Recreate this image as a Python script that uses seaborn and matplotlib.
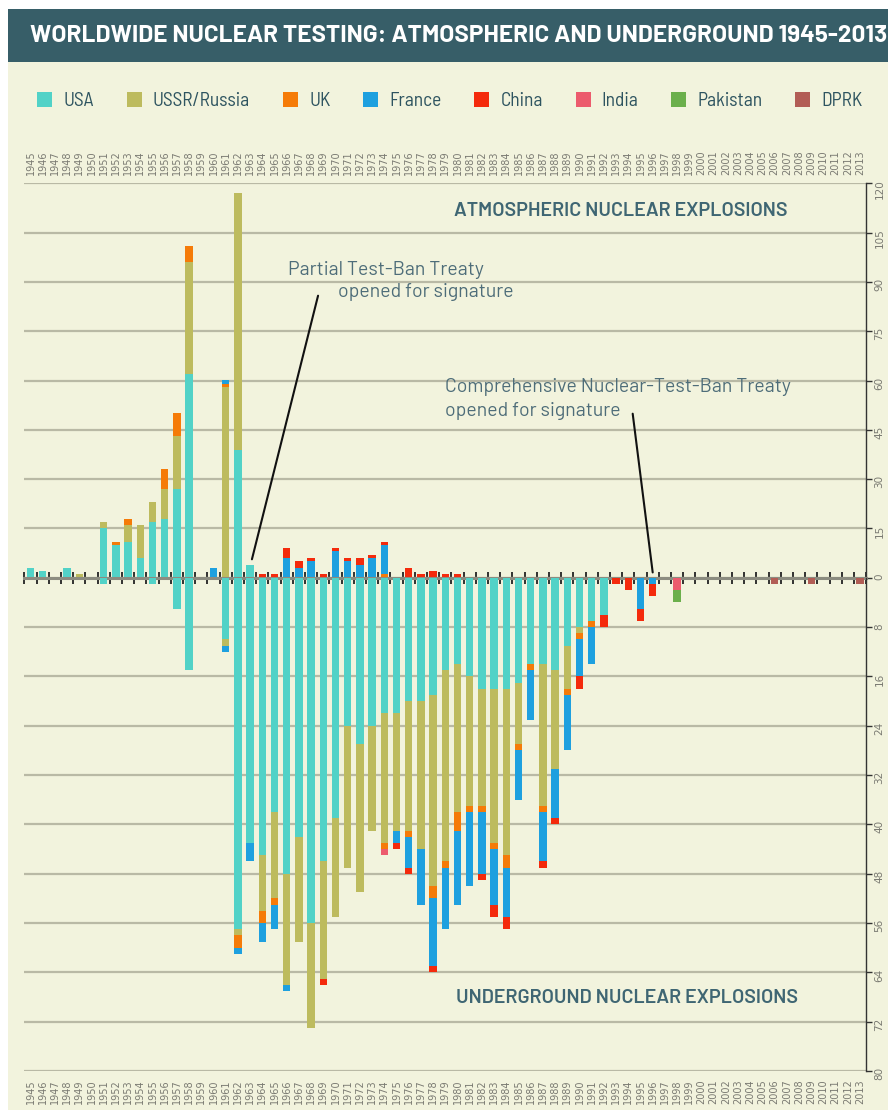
import numpy as np
import pandas as pd
import matplotlib
matplotlib.use("Agg")
import matplotlib.pyplot as plt
import seaborn as sns
from matplotlib.patches import Patch, Rectangle

# ---------------- data ----------------
YEARS = list(range(1945, 2014))
COUNTRIES = ["USA", "USSR/Russia", "UK", "France", "China", "India", "Pakistan", "DPRK"]
COLORS = ["#52D2C7", "#BDBB5E", "#F57B08", "#1EA0DF", "#F42A0C", "#EC5B6D", "#6BAF4B", "#B25D55"]

# atmospheric explosions per year
atm_usa = {1945: 3, 1946: 2, 1948: 3, 1951: 15, 1952: 10, 1953: 11, 1954: 6, 1955: 17,
           1956: 18, 1957: 27, 1958: 62, 1962: 39, 1963: 4}
atm_ussr = {1949: 1, 1951: 2, 1953: 5, 1954: 10, 1955: 6, 1956: 9, 1957: 16, 1958: 34,
            1961: 58, 1962: 78}
atm_uk = {1952: 1, 1953: 2, 1956: 6, 1957: 7, 1958: 5, 1961: 1, 1974: 1}
atm_france = {1960: 3, 1961: 1, 1966: 6, 1967: 3, 1968: 5, 1970: 8, 1971: 5, 1972: 4,
              1973: 6, 1974: 9}
atm_china = {1964: 1, 1965: 1, 1966: 3, 1967: 2, 1968: 1, 1969: 1, 1970: 1, 1971: 1,
             1972: 2, 1973: 1, 1974: 1, 1976: 3, 1977: 1, 1978: 2, 1979: 1, 1980: 1}

# underground explosions per year
ug_usa = {1951: 1, 1955: 1, 1957: 5, 1958: 15, 1961: 10, 1962: 57, 1963: 43, 1964: 45,
          1965: 38, 1966: 48, 1967: 42, 1968: 56, 1969: 46, 1970: 39, 1971: 24, 1972: 27,
          1973: 24, 1974: 22, 1975: 22, 1976: 20, 1977: 20, 1978: 19, 1979: 15, 1980: 14,
          1981: 16, 1982: 18, 1983: 18, 1984: 18, 1985: 17, 1986: 14, 1987: 14, 1988: 15,
          1989: 11, 1990: 8, 1991: 7, 1992: 6}
ug_ussr = {1961: 1, 1962: 1, 1964: 9, 1965: 14, 1966: 18, 1967: 17, 1968: 17, 1969: 19,
           1970: 16, 1971: 23, 1972: 24, 1973: 17, 1974: 21, 1975: 19, 1976: 21, 1977: 24,
           1978: 31, 1979: 31, 1980: 24, 1981: 21, 1982: 19, 1983: 25, 1984: 27, 1985: 10,
           1987: 23, 1988: 16, 1989: 7, 1990: 1}
ug_uk = {1962: 2, 1964: 2, 1965: 1, 1974: 1, 1976: 1, 1978: 2, 1979: 1, 1980: 3, 1981: 1,
         1982: 1, 1983: 1, 1984: 2, 1985: 1, 1986: 1, 1987: 1, 1989: 1, 1990: 1, 1991: 1}
ug_france = {1961: 1, 1962: 1, 1963: 3, 1964: 3, 1965: 4, 1966: 1, 1975: 2, 1976: 5,
             1977: 9, 1978: 11, 1979: 10, 1980: 12, 1981: 12, 1982: 10, 1983: 9, 1984: 8,
             1985: 8, 1986: 8, 1987: 8, 1988: 8, 1989: 9, 1990: 6, 1991: 6, 1995: 5, 1996: 1}
ug_china = {1969: 1, 1975: 1, 1976: 1, 1978: 1, 1982: 1, 1983: 2, 1984: 2, 1987: 1,
            1988: 1, 1990: 2, 1992: 2, 1993: 1, 1994: 2, 1995: 2, 1996: 2}
ug_india = {1974: 1, 1998: 2}
ug_pakistan = {1998: 2}
ug_dprk = {2006: 1, 2009: 1, 2013: 1}

ATM = dict(zip(COUNTRIES[:5], [atm_usa, atm_ussr, atm_uk, atm_france, atm_china]))
UG = dict(zip(COUNTRIES, [ug_usa, ug_ussr, ug_uk, ug_france, ug_china, ug_india,
                          ug_pakistan, ug_dprk]))


def to_frame(series_by_country):
    rows = [(y, c, n) for c, d in series_by_country.items() for y, n in d.items()]
    return pd.DataFrame(rows, columns=["year", "country", "tests"])


df_atm = to_frame(ATM)
df_ug = to_frame(UG)

# ---------------- style ----------------
BG = "#F2F3DD"
BAND = "#375E68"
GRID = "#B9B9A5"
TXT = "#3F6673"
NOTE = "#4E6D79"
TICKTXT = "#7A7A72"
COND = ["Barlow Semi Condensed", "DejaVu Sans"]
DIN = ["Barlow", "DejaVu Sans"]

sns.set_theme(style="white")
plt.rcParams["font.family"] = ["DejaVu Sans"]

W, H = 888, 1110
fig = plt.figure(figsize=(W / 100, H / 100), dpi=100, facecolor="white")
fig.add_artist(Rectangle((8 / W, 0), 1 - 8 / W, 1 - 62 / H, transform=fig.transFigure,
                         facecolor=BG, edgecolor="none", zorder=-10))
fig.add_artist(Rectangle((8 / W, 1 - 61.7 / H), 1 - 8 / W, (61.7 - 9.3) / H,
                         transform=fig.transFigure, facecolor=BAND, edgecolor="none",
                         zorder=-9))

L = 24.4 / W
AW = (866.2 - 24.4) / W
ax_top = fig.add_axes([L, 1 - 577.7 / H, AW, (577.7 - 183.3) / H])
ax_bot = fig.add_axes([L, 1 - 1071 / H, AW, (1071 - 577.7) / H])

palette = dict(zip(COUNTRIES, COLORS))


def draw(ax, df):
    present = [c for c in COUNTRIES if c in set(df["country"])]
    sns.histplot(data=df, x="year", weights="tests", hue="country",
                 hue_order=present[::-1], palette=palette, multiple="stack",
                 discrete=True, shrink=0.6, linewidth=0, alpha=1, legend=False, ax=ax)


draw(ax_top, df_atm)
draw(ax_bot, df_ug)

for ax in (ax_top, ax_bot):
    ax.set_facecolor("none")
    ax.set_xlim(YEARS[0] - 0.5, YEARS[-1] + 0.5)
    ax.set_xlabel("")
    ax.set_ylabel("")
    ax.set_xticks(YEARS)
    ax.set_xticklabels([str(y) for y in YEARS])
    ax.set_xticks(np.arange(YEARS[0] - 0.5, YEARS[-1] + 1), minor=True)
    ax.yaxis.tick_right()
    ax.grid(False)
    ax.yaxis.grid(True, color=GRID, lw=1.6)
    ax.set_axisbelow(True)
    for s in ("left", "top", "bottom"):
        ax.spines[s].set_visible(False)
    ax.spines["right"].set_color("#333333")
    ax.spines["right"].set_linewidth(1.0)
    ax.tick_params(axis="y", which="major", right=True, left=False, labelright=True,
                   labelleft=False, length=4, width=1, color="#333333", labelsize=7.5,
                   labelcolor=TICKTXT, labelrotation=90, pad=2)

ax_top.set_ylim(0, 120)
ax_top.set_yticks(np.arange(0, 121, 15))
ax_top.tick_params(axis="x", which="major", top=True, bottom=False, labeltop=True,
                   labelbottom=False, length=0, labelrotation=90, labelsize=7,
                   labelcolor=TICKTXT, pad=6)
ax_top.tick_params(axis="x", which="minor", top=False, bottom=True, direction="inout",
                   length=8, width=1.3, color="#222222")
ax_top.spines["bottom"].set_visible(True)
ax_top.spines["bottom"].set_color("#8C8C80")
ax_top.spines["bottom"].set_linewidth(2.2)
ax_top.spines["bottom"].set_zorder(3)

ax_bot.set_ylim(80, 0)
ax_bot.set_yticks(np.arange(8, 81, 8))
ax_bot.tick_params(axis="x", which="major", top=False, bottom=True, labeltop=False,
                   labelbottom=True, length=0, labelrotation=90, labelsize=7,
                   labelcolor=TICKTXT, pad=6)
ax_bot.tick_params(axis="x", which="minor", top=False, bottom=False, length=0)

# ---------------- texts ----------------
fig.text(30 / W, 1 - 36 / H, "WORLDWIDE NUCLEAR TESTING: ATMOSPHERIC AND UNDERGROUND 1945-2013",
         ha="left", va="center", color="white", fontsize=17.5, fontweight="bold", family=DIN)

handles = [Patch(facecolor=c, edgecolor="none", label=n) for n, c in zip(COUNTRIES, COLORS)]
fig.legend(handles=handles, loc="center", bbox_to_anchor=(450 / W, 1 - 101 / H), ncol=8,
           frameon=False, handlelength=0.78, handleheight=0.8,
           handletextpad=0.57, columnspacing=1.68, labelcolor="#2E5460",
           prop=dict(family=COND, size=14))

fig.text(621 / W, 1 - 211 / H, "ATMOSPHERIC NUCLEAR EXPLOSIONS", ha="center", va="center",
         fontsize=14.2, fontweight="semibold", color=TXT, family=DIN)
fig.text(627 / W, 1 - 998 / H, "UNDERGROUND NUCLEAR EXPLOSIONS", ha="center", va="center",
         fontsize=14.2, fontweight="semibold", color=TXT, family=DIN)

fig.text(288 / W, 1 - 270 / H, "Partial Test-Ban Treaty", ha="left", va="center",
         fontsize=14, color=NOTE, family=DIN)
fig.text(338 / W, 1 - 292 / H, "opened for signature", ha="left", va="center",
         fontsize=14, color=NOTE, family=DIN)
fig.text(445 / W, 1 - 387 / H, "Comprehensive Nuclear-Test-Ban Treaty", ha="left",
         va="center", fontsize=14, color=NOTE, family=DIN)
fig.text(445 / W, 1 - 411 / H, "opened for signature", ha="left", va="center",
         fontsize=14, color=NOTE, family=DIN)

ax_top.annotate("", xy=(1963.15, 5.6), xytext=(1968.57, 85.8),
                arrowprops=dict(arrowstyle="-", color="#111111", lw=1.5, shrinkA=0, shrinkB=0))
ax_top.annotate("", xy=(1996.0, 1.6), xytext=(1994.36, 49.9),
                arrowprops=dict(arrowstyle="-", color="#111111", lw=1.5, shrinkA=0, shrinkB=0))

fig.savefig("out.png", dpi=100, facecolor="white")
